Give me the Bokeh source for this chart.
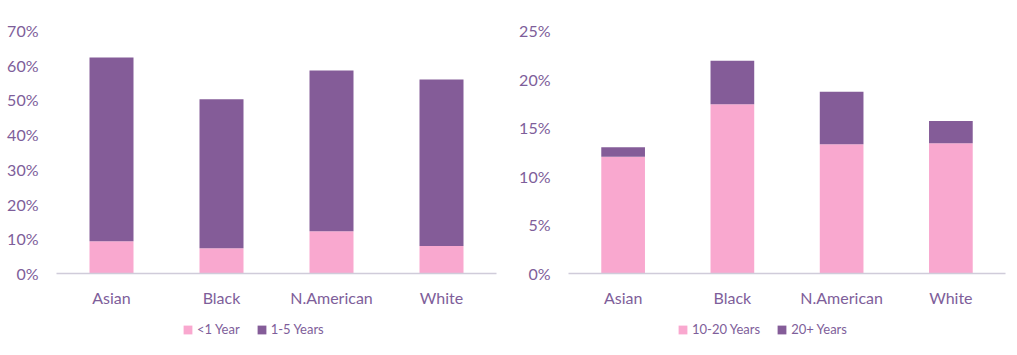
from bokeh.plotting import figure
from bokeh.layouts import row, column
from bokeh.models import ColumnDataSource, NumeralTickFormatter, Legend, LegendItem, Range1d, FixedTicker
from bokeh.embed import file_html
from bokeh.resources import INLINE

categories = ["Asian", "Black", "N.American", "White"]

left_series = ["<1 Year", "1-5 Years"]
left_lt1 = [0.093, 0.073, 0.122, 0.079]
left_1to5 = [0.529, 0.429, 0.463, 0.480]

right_series = ["10-20 Years", "20+ Years"]
right_10to20 = [0.120, 0.174, 0.133, 0.134]
right_20plus = [0.010, 0.045, 0.054, 0.023]

left_ticks = [0, 0.1, 0.2, 0.3, 0.4, 0.5, 0.6, 0.7]
right_ticks = [0, 0.05, 0.10, 0.15, 0.20, 0.25]

PINK = "#F9A8CF"
PURPLE = "#845C98"
TEXT = "#7E5E9A"
FONT = "Lato"


def make_chart(frame_w, left_border, right_border, ymax, ticks, s1, s2):
    src = ColumnDataSource(dict(cat=categories, a=s1, b=s2))
    p = figure(x_range=categories, y_range=Range1d(0, ymax),
               frame_width=frame_w, frame_height=243,
               output_backend="svg", toolbar_location=None,
               min_border_left=left_border, min_border_right=right_border,
               min_border_top=30, min_border_bottom=42)
    p.vbar_stack(["a", "b"], x="cat", width=0.4, source=src,
                 color=[PINK, PURPLE], line_color=None)
    p.outline_line_color = None
    p.xgrid.grid_line_color = None
    p.ygrid.grid_line_color = None
    p.x_range.range_padding = 0.0
    p.yaxis.ticker = FixedTicker(ticks=ticks)
    p.yaxis.formatter = NumeralTickFormatter(format="0%")
    p.yaxis.axis_line_color = None
    p.yaxis.major_tick_line_color = None
    p.yaxis.minor_tick_line_color = None
    p.yaxis.major_label_standoff = 12
    p.xaxis.axis_line_color = "#D0CCDA"
    p.xaxis.axis_line_width = 1.5
    p.xaxis.major_tick_line_color = None
    p.xaxis.minor_tick_line_color = None
    p.xaxis.major_label_standoff = 8
    for ax in (p.xaxis[0], p.yaxis[0]):
        ax.major_label_text_font = FONT
        ax.major_label_text_font_size = "16px"
        ax.major_label_text_color = TEXT
    return p


def make_legend(fig_w, names, legend_x):
    p = figure(width=fig_w, height=40, x_range=Range1d(0, 1), y_range=Range1d(0, 1),
               output_backend="svg", toolbar_location=None,
               x_axis_location=None, y_axis_location=None,
               min_border_left=0, min_border_right=0,
               min_border_top=0, min_border_bottom=0)
    p.outline_line_color = None
    p.xgrid.grid_line_color = None
    p.ygrid.grid_line_color = None
    # swatches only: bars placed outside the visible range
    r1 = p.vbar(x=[5], top=[6], bottom=[5], width=0.1, color=PINK, line_color=None)
    r2 = p.vbar(x=[5], top=[6], bottom=[5], width=0.1, color=PURPLE, line_color=None)
    legend = Legend(items=[LegendItem(label=names[0], renderers=[r1]),
                           LegendItem(label=names[1], renderers=[r2])],
                    orientation="horizontal", location=(legend_x, 18),
                    label_text_font=FONT, label_text_font_size="13px",
                    label_text_color=TEXT, glyph_width=11, glyph_height=11,
                    spacing=16, label_standoff=4, border_line_color=None,
                    background_fill_alpha=0.0,
                    margin=0, padding=0, label_height=14)
    p.add_layout(legend, "center")
    return p


p1 = make_chart(440, 56, 12, 0.70, left_ticks, left_lt1, left_1to5)
p2 = make_chart(437, 60, 12, 0.25, right_ticks, right_10to20, right_20plus)
l1 = make_legend(508, left_series, 182)
l2 = make_legend(509, right_series, 169)

layout = column(row(p1, p2), row(l1, l2))
open("out.html", "w").write(file_html(layout, INLINE))
